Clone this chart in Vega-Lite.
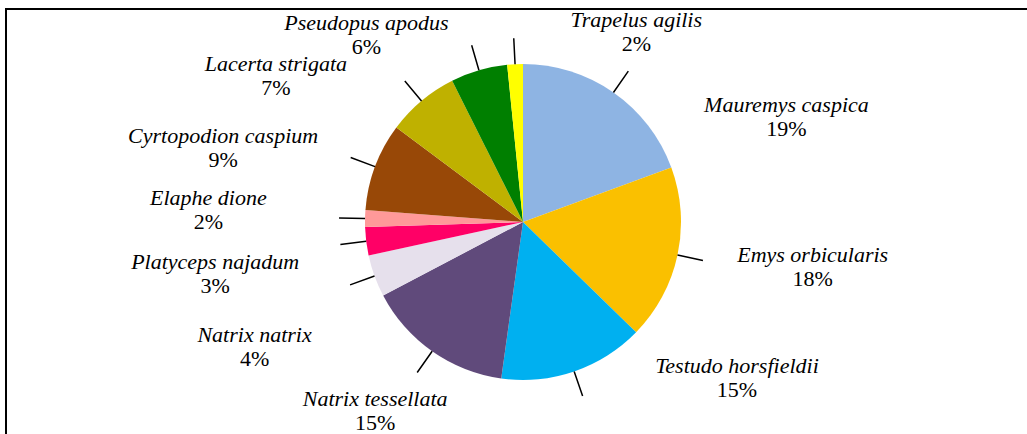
{
  "$schema": "https://vega.github.io/schema/vega-lite/v6.json",
  "width": 1034,
  "height": 426,
  "autosize": {"type": "none"},
  "padding": {"left": 6, "top": 9, "right": -13, "bottom": -1},
  "background": "white",
  "view": {"stroke": "black", "strokeWidth": 2},
  "config": {"view": {"stroke": "black", "strokeWidth": 2}},
  "data": {
    "values": [
      {"i": 1, "name": "Mauremys caspica", "share": 0.194},
      {"i": 2, "name": "Emys orbicularis", "share": 0.179},
      {"i": 3, "name": "Testudo horsfieldii", "share": 0.149},
      {"i": 4, "name": "Natrix tessellata", "share": 0.151},
      {"i": 5, "name": "Natrix natrix", "share": 0.043},
      {"i": 6, "name": "Platyceps najadum", "share": 0.029},
      {"i": 7, "name": "Elaphe dione", "share": 0.017},
      {"i": 8, "name": "Cyrtopodion caspium", "share": 0.090},
      {"i": 9, "name": "Lacerta strigata", "share": 0.074},
      {"i": 10, "name": "Pseudopus apodus", "share": 0.058},
      {"i": 11, "name": "Trapelus agilis", "share": 0.016}
    ]
  },
  "layer": [
    {
      "mark": {"type": "arc", "outerRadius": 158},
      "encoding": {
        "theta": {"field": "share", "type": "quantitative", "stack": true},
        "order": {"field": "i", "type": "quantitative"},
        "color": {
          "field": "name",
          "type": "nominal",
          "legend": null,
          "scale": {
            "domain": ["Mauremys caspica", "Emys orbicularis", "Testudo horsfieldii", "Natrix tessellata", "Natrix natrix", "Platyceps najadum", "Elaphe dione", "Cyrtopodion caspium", "Lacerta strigata", "Pseudopus apodus", "Trapelus agilis"],
            "range": ["#8EB4E3", "#FAC000", "#00B0F0", "#604A7B", "#E6E0EC", "#FF0066", "#FF9999", "#984807", "#BFB100", "#007F00", "#FFFF00"]
          }
        }
      }
    },
    {
      "mark": {"type": "arc", "innerRadius": 158, "outerRadius": 184, "padAngle": 3.1416, "fillOpacity": 0, "stroke": "black", "strokeWidth": 1.5},
      "encoding": {
        "theta": {"field": "share", "type": "quantitative", "stack": true},
        "order": {"field": "i", "type": "quantitative"}
      }
    },
    {
      "mark": {
        "type": "text",
        "radius": 190,
        "dy": -12,
        "dx": {"expr": "(datum.share_start + datum.share_end) < 1 || (datum.share_start + datum.share_end) > 1.96 ? 105 : -125"},
        "font": "Liberation Serif",
        "fontSize": 22,
        "fontStyle": "italic",
        "align": "center",
        "baseline": "middle",
        "color": "black"
      },
      "encoding": {
        "theta": {
          "field": "share",
          "type": "quantitative",
          "stack": true,
          "scale": {
            "type": "linear",
            "zero": false,
            "nice": false,
            "domain": [0, 0.097, 0.2835, 0.4475, 0.5975, 0.6945, 0.7305, 0.7535, 0.807, 0.889, 0.955, 0.992, 1],
            "range": [0.55, 0.986, 1.808, 2.531, 3.262, 3.997, 4.437, 4.777, 5.114, 5.585, 6.116, 6.327, 6.42]
          }
        },
        "order": {"field": "i", "type": "quantitative"},
        "text": {"field": "name", "type": "nominal"}
      }
    },
    {
      "mark": {
        "type": "text",
        "radius": 190,
        "dy": 12,
        "dx": {"expr": "(datum.share_start + datum.share_end) < 1 || (datum.share_start + datum.share_end) > 1.96 ? 105 : -125"},
        "font": "Liberation Serif",
        "fontSize": 22,
        "align": "center",
        "baseline": "middle",
        "color": "black"
      },
      "encoding": {
        "theta": {
          "field": "share",
          "type": "quantitative",
          "stack": true,
          "scale": {
            "type": "linear",
            "zero": false,
            "nice": false,
            "domain": [0, 0.097, 0.2835, 0.4475, 0.5975, 0.6945, 0.7305, 0.7535, 0.807, 0.889, 0.955, 0.992, 1],
            "range": [0.55, 0.986, 1.808, 2.531, 3.262, 3.997, 4.437, 4.777, 5.114, 5.585, 6.116, 6.327, 6.42]
          }
        },
        "order": {"field": "i", "type": "quantitative"},
        "text": {"field": "share", "type": "quantitative", "format": ".0%"}
      }
    }
  ],
  "resolve": {"scale": {"theta": "independent"}}
}
